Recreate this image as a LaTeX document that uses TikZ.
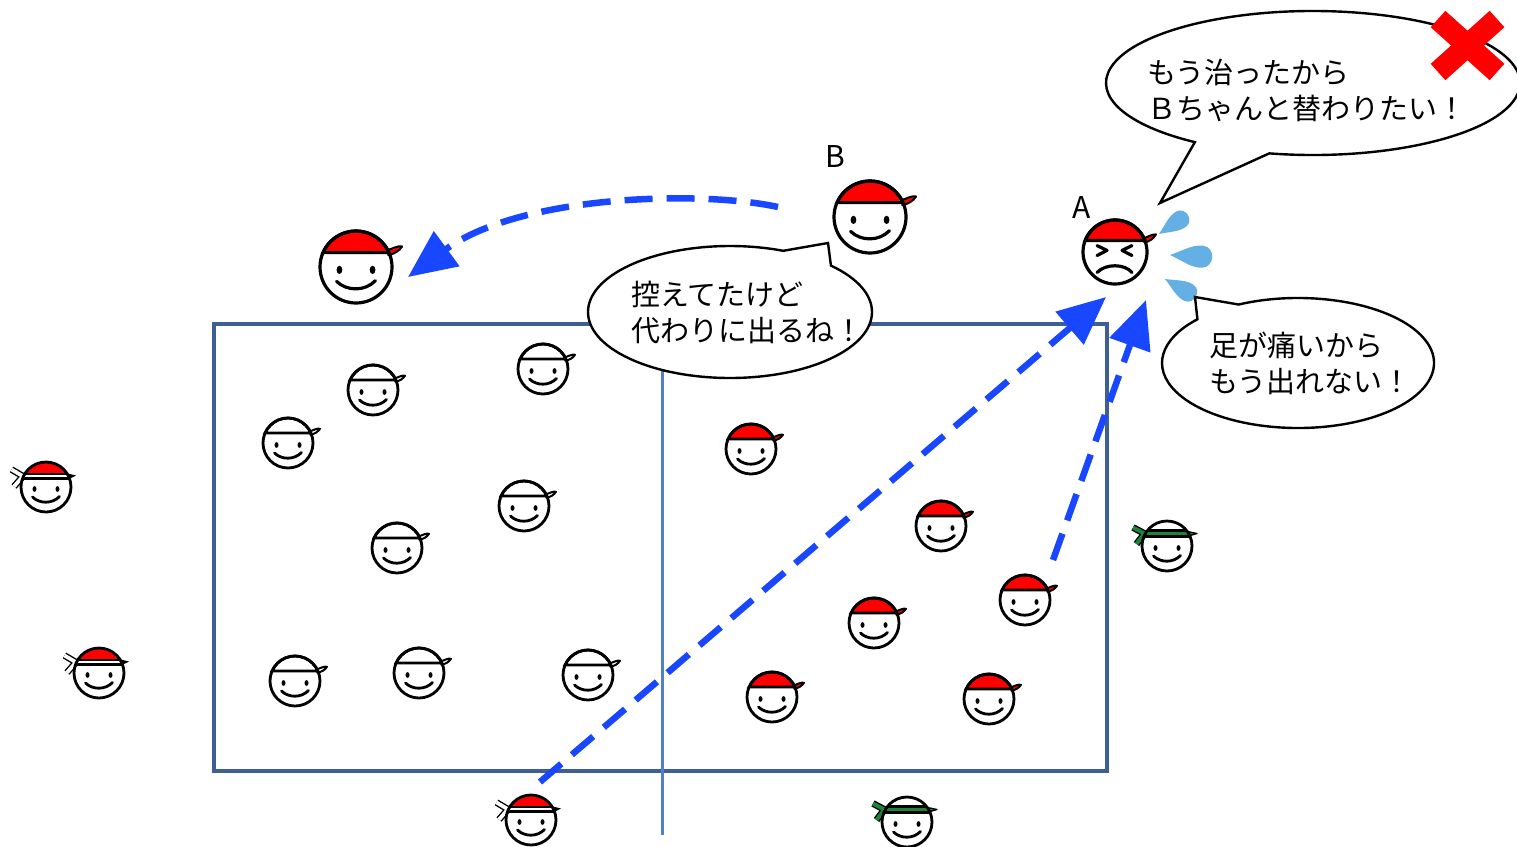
\documentclass[tikz,border=0pt]{standalone}
\usepackage{fontspec}
\newfontfamily\jpfont{Noto Sans CJK JP}
\usetikzlibrary{arrows.meta}

\definecolor{capred}{RGB}{255,0,0}
\definecolor{bandgreen}{RGB}{30,130,60}
\definecolor{courtblue}{RGB}{62,95,145}
\definecolor{lineblue}{RGB}{80,128,198}
\definecolor{arrowblue}{RGB}{25,70,255}
\definecolor{dropblue}{RGB}{100,175,228}

% eyes and smile of a face drawn on the unit circle
\newcommand\smileparts{%
  \fill[black] (-0.46,-0.08) ellipse[x radius=0.08, y radius=0.115];
  \fill[black] (0.46,-0.08) ellipse[x radius=0.08, y radius=0.115];
  \draw[line cap=round] (-0.54,-0.4) .. controls (-0.25,-0.68) and (0.25,-0.68) .. (0.54,-0.38);
}

\tikzset{
  face/.style={xscale=#1, yscale=-#1, line width=2.8pt},
  pics/capface/.style={code={
    \fill[white] (0,0) circle[radius=1];
    \filldraw[fill=#1] (-0.917,0.4) arc[start angle=156.42, end angle=23.58, radius=1] -- cycle;
    \filldraw[fill=#1, line width=2pt, line join=round]
      (0.88,0.47) .. controls (1.0,0.5) and (1.15,0.6) .. (1.28,0.57)
      .. controls (1.2,0.44) and (1.05,0.36) .. (0.9,0.33) -- cycle;
    \draw (0,0) circle[radius=1];
    \smileparts
  }},
  pics/angryface/.style={code={
    \fill[white] (0,0) circle[radius=1];
    \filldraw[fill=capred] (-0.93,0.36) arc[start angle=158.9, end angle=21.1, radius=1] -- cycle;
    \filldraw[fill=capred, line width=2pt, line join=round]
      (0.9,0.43) .. controls (1.0,0.46) and (1.15,0.56) .. (1.28,0.55)
      .. controls (1.2,0.4) and (1.05,0.32) .. (0.92,0.3) -- cycle;
    \draw (0,0) circle[radius=1];
    \draw[line cap=round, line join=round] (-0.56,0.2) -- (-0.25,0.05) -- (-0.56,-0.11);
    \draw[line cap=round, line join=round] (0.53,0.2) -- (0.22,0.05) -- (0.53,-0.11);
    \draw[line cap=round] (-0.56,-0.64) .. controls (-0.3,-0.36) and (0.3,-0.36) .. (0.53,-0.64);
  }},
  pics/redband/.style={code={
    \fill[white] (0,0) circle[radius=1];
    \fill[capred] (-0.854,0.52) arc[start angle=148.7, end angle=31.3, radius=1] -- cycle;
    \fill[black] (0.8,0.56) -- (1.2,0.46) -- (0.92,0.32) -- cycle;
    \draw (-0.854,0.52) -- (0.854,0.52);
    \draw (-0.94,0.34) -- (0.94,0.34);
    \draw[line width=1.4pt, double=white, double distance=3.8pt]
      (-0.92,0.43) -- (-1.38,0.7) (-0.92,0.43) -- (-1.28,0.02);
    \draw (0,0) circle[radius=1];
    \smileparts
  }},
  pics/greenband/.style={code={
    \fill[white] (0,0) circle[radius=1];
    \begin{scope}
      \clip (0,0) circle[radius=1];
      \fill[bandgreen] (-1.1,0.38) rectangle (1.1,0.62);
    \end{scope}
    \draw (-0.78,0.62) -- (0.78,0.62);
    \draw (-0.925,0.38) -- (0.925,0.38);
    \filldraw[fill=bandgreen, line width=1.3pt, line join=round] (0.82,0.58) -- (1.2,0.5) -- (0.9,0.41) -- cycle;
    \draw[line width=1.4pt, double=bandgreen, double distance=4pt]
      (-0.9,0.5) -- (-1.36,0.74) (-0.9,0.5) -- (-1.22,0.08);
    \draw (0,0) circle[radius=1];
    \smileparts
  }},
  pics/sweat/.style={code={
    \fill[dropblue] (0,0) .. controls (0.3,0.12) and (0.5,0.27) .. (0.75,0.25)
      .. controls (1.03,0.22) and (1.03,-0.22) .. (0.75,-0.25)
      .. controls (0.5,-0.27) and (0.3,-0.12) .. (0,0) -- cycle;
  }},
  bubble/.style={draw=black, fill=white, line width=2.4pt, line join=miter},
  bubbletext/.style={font=\jpfont\fontsize{29}{35.5}\selectfont, align=left, anchor=west, inner sep=0pt},
  namelabel/.style={font=\jpfont\fontsize{30}{34}\selectfont, inner sep=0pt},
  court/.style={draw=courtblue, line width=4pt},
  midline/.style={draw=lineblue, line width=3pt},
  move/.style={draw=arrowblue, line width=6.5pt, dash pattern=on 28pt off 14pt,
    -{Triangle[length=48pt,width=42pt]}},
}

\begin{document}
\begin{tikzpicture}[x=1pt, y=-1pt]
\useasboundingbox (0,0) rectangle (1517,846);

% court
\draw[court] (214,324) rectangle (1107,771);
\draw[midline] (662,324) -- (662,835);

% team with white caps
\foreach \px/\py in {373/390, 288/443, 543/369, 524/506, 397/548, 295/681, 419/673, 588/675}
  \pic[face=25] at (\px,\py) {capface=white};

% team with red caps on the court
\foreach \px/\py in {751/449, 941/526, 874/623, 1025/600, 772/697, 989/699}
  \pic[face=25] at (\px,\py) {capface=capred};

% referees and bench
\foreach \px/\py in {46/487, 99/673, 531/820}
  \pic[face=25] at (\px,\py) {redband};
\foreach \px/\py in {1167/546, 907/822}
  \pic[face=25] at (\px,\py) {greenband};

% players A and B, and B's new place
\coordinate (faceB) at (870,217);
\coordinate (faceA) at (1115,252);
\coordinate (newspot) at (356,267);
\pic[face=36, line width=3.2pt] at (faceB) {capface=capred};
\pic[face=36, line width=3.2pt] at (newspot) {capface=capred};
\pic[face=32, line width=3.2pt] at (faceA) {angryface};

% sweat drops beside A
\pic[scale=36, rotate=34] at (1159,234) {sweat};
\pic[scale=44, rotate=-3] at (1170,255) {sweat};
\pic[scale=37, rotate=-30] at (1165,279) {sweat};

\node[namelabel] (labB) at (835,157) {B};
\node[namelabel] (labA) at (1082,208) {A};

% speech bubbles
\draw[bubble] ([shift={(1313,83)}]102.2:207 and 72)
  arc[start angle=102.2, end angle=-235.2, x radius=207, y radius=72] -- (1160,203) -- cycle;
\draw[bubble] ([shift={(730,312)}]-44.7:142 and 66)
  arc[start angle=-44.7, end angle=292, x radius=142, y radius=66] -- (828,243) -- cycle;
\draw[bubble] ([shift={(1298,363)}]244.1:136 and 65)
  arc[start angle=244.1, end angle=582.3, x radius=136, y radius=65] -- (1195,297) -- cycle;

\node[bubbletext] (sayA1) at (1147,90.5) {もう治ったから\\Ｂちゃんと替わりたい！};
\node[bubbletext] (sayB) at (631,312.5) {控えてたけど\\代わりに出るね！};
\node[bubbletext] (sayA2) at (1209,363.5) {足が痛いから\\もう出れない！};

% red cross over the wish
\draw[capred, line width=22pt] (1438,19) -- (1497,72);
\draw[capred, line width=22pt] (1497,19) -- (1438,72);

% movements
\coordinate (bstart) at (778,207);
\coordinate (bend) at (408,277);
\coordinate (refstart) at (540,782);
\coordinate (refend) at (1106,297);
\coordinate (pstart) at (1053,560);
\coordinate (pend) at (1146,300);
\draw[move] (bstart) .. controls (700,190) and (520,195) .. (bend);
\draw[move] (refstart) -- (refend);
\draw[move] (pstart) -- (pend);
\end{tikzpicture}
\end{document}
